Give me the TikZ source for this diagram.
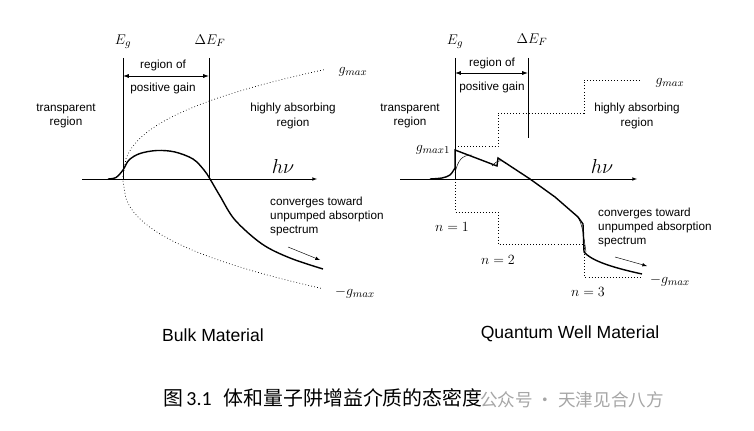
\documentclass[tikz,border=0pt]{standalone}
\usepackage{fontspec}
\setsansfont{Liberation Sans}
\newfontfamily\cjk{Noto Sans CJK SC}
\newfontfamily\numfont{Carlito}
\usetikzlibrary{arrows,arrows.meta}
\usetikzlibrary{calc}

\begin{document}
\begin{tikzpicture}[x=0.03cm, y=-0.03cm,
	lbl/.style={font=\sffamily\fontsize{10}{12}\selectfont, align=center, inner sep=0pt},
	sym/.style={font=\fontsize{13}{15}\selectfont, inner sep=0pt},
	title/.style={font=\sffamily\fontsize{15}{18}\selectfont, inner sep=0pt},
	gain/.style={line width=1.2pt},
	bound/.style={line width=0.7pt},
	span/.style={{Latex[length=5pt,width=3.5pt]}-{Latex[length=5pt,width=3.5pt]}, line width=0.7pt},
	limit/.style={dotted, line width=0.6pt}]
	\useasboundingbox (0,0) rectangle (754,431);
	\def\ax{179} % height of the h nu axis
	
	% ---------------- bulk material ----------------
	\coordinate (O1) at (82,\ax);
	\coordinate (H1) at (317,\ax);
	\coordinate (EgL) at (123,\ax);
	\coordinate (EfL) at (209,\ax);
	\coordinate (EgTopL) at (123,58);
	\coordinate (EfTopL) at (209,58);
	\coordinate (GainAL) at (123,76);
	\coordinate (GainBL) at (209,76);
	
	\draw[-latex, thin] (O1) -- (H1);
	\node[sym, font=\fontsize{16}{18}\selectfont] (hvL) at (283,166) {$h\nu$};
	
	% band edge and quasi fermi level separation
	\draw[bound] (EgTopL) -- (EgL);
	\draw[bound] (EfTopL) -- (EfL);
	\node[sym] (EgLabelL) at (123,42) {$E_g$};
	\node[sym] (EfLabelL) at (210,41) {$\Delta E_F$};
	\draw[span] (GainAL) -- (GainBL);
	\node[lbl] (RegOfL) at (163,65) {region of};
	\node[lbl] (PosGainL) at (163,88) {positive gain};
	\node[lbl] (TranspL) at (66,116) {transparent\\region};
	\node[lbl] (AbsorbL) at (293,116) {highly absorbing\\region};
	
	% +g max and -g max (square root density of states)
	\draw[limit, domain=0.01:202, samples=70] plot ({123+\x},{\ax-13.1*(\x)^0.4});
	\draw[limit, domain=0.01:200, samples=70] plot ({123+\x},{\ax+12.5*(\x)^0.41});
	\node[sym] (GmaxL) at (353,72) {$g_{max}$};
	\node[sym] (MinGmaxL) at (355,293) {$-g_{max}$};
	
	% gain spectrum
	\draw[gain] plot[smooth, tension=0.55] coordinates {(108,179) (116,177.5) (123,170) (129,160)
		(140,153.5) (157,150.5) (175,152) (193,159) (204,170) (210,179) (220,196) (235,220)
		(262,244) (290,258) (323,269)};
	
	\coordinate (ConvAL) at (288,247);
	\coordinate (ConvBL) at (320,260);
	\draw[-latex, thin] (ConvAL) -- (ConvBL);
	\node[lbl, align=left, anchor=north west] (ConvL) at (270,197) {converges toward\\unpumped absorption\\spectrum};
	
	\node[title] (BulkT) at (213,335) {Bulk Material};
	
	% ---------------- quantum well material ----------------
	\coordinate (O2) at (400,\ax);
	\coordinate (H2) at (637,\ax);
	\coordinate (EgR) at (455,\ax);
	\coordinate (EgTopR) at (455,58);
	\coordinate (EfTopR) at (528,58);
	\coordinate (EfR) at (528,138);
	\coordinate (GainAR) at (455,73);
	\coordinate (GainBR) at (528,73);
	
	\draw[-latex, thin] (O2) -- (H2);
	\node[sym, font=\fontsize{16}{18}\selectfont] (hvR) at (602,166) {$h\nu$};
	
	\draw[bound] (EgTopR) -- (EgR);
	\draw[bound] (EfTopR) -- (EfR);
	\node[sym] (EgLabelR) at (455,42) {$E_g$};
	\node[sym] (EfLabelR) at (532,40) {$\Delta E_F$};
	\draw[span] (GainAR) -- (GainBR);
	\node[lbl] (RegOfR) at (492,63) {region of};
	\node[lbl] (PosGainR) at (492,87) {positive gain};
	\node[lbl] (TranspR) at (410,116) {transparent\\region};
	\node[lbl] (AbsorbR) at (637,116) {highly absorbing\\region};
	
	% step-like density of states
	\draw[limit] (455,146) -- (498,146) -- (498,113) -- (584,113) -- (584,80) -- (640,80);
	\draw[limit] (EgR) -- (455,212) -- (498,212) -- (498,244) -- (584,244) -- (584,277) -- (642,277);
	\node[sym] (Gmax1R) at (433,150) {$g_{max1}$};
	\node[sym] (GmaxR) at (670,83) {$g_{max}$};
	\node[sym] (MinGmaxR) at (670,281) {$-g_{max}$};
	\node[sym] (N1) at (452,227) {$n = 1$};
	\node[sym] (N2) at (498,260) {$n = 2$};
	\node[sym] (N3) at (588,292) {$n = 3$};
	
	% gain spectrum, sharp and broadened
	\draw[gain] plot[smooth] coordinates {(430,179) (442,178) (450,175) (455,168)}
		-- (455,150) -- (497,166) -- (498,158) -- (530,179) -- (555,197) -- (578,217)
		-- (583,224) -- (584,252) .. controls (590,259) and (605,266) .. (642,274);
	\draw[thin] (455,173) .. controls (458,160) and (462,155) .. (472,155);
	\draw[thin] (492,166) .. controls (495,163) and (497,160) .. (503,161);
	\draw[thin] (575,214) .. controls (582,220) and (583,232) .. (586,252);
	
	\coordinate (ConvAR) at (615,257);
	\coordinate (ConvBR) at (647,266);
	\draw[-latex, thin] (ConvAR) -- (ConvBR);
	\node[lbl, align=left, anchor=north west] (ConvR) at (598,208) {converges toward\\unpumped absorption\\spectrum};
	
	\node[title] (QwT) at (570,334) {Quantum Well Material};
	
	% ---------------- caption ----------------
	\node[anchor=west, inner sep=0pt, font=\fontsize{17}{20}\selectfont] (Cap) at (163,398)
		{\cjk 图\,{\numfont 3.1}\hspace{0.6em}体和量子阱增益介质的态密度};
	\node[anchor=west, inner sep=0pt, text=black!35, font=\fontsize{15}{18}\selectfont] (Mark) at (480,400)
		{\cjk 公众号 · 天津见合八方};
\end{tikzpicture}
\end{document}
